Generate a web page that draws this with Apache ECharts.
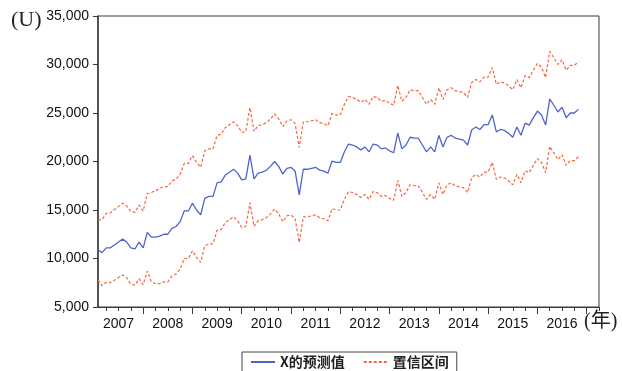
<!DOCTYPE html>
<html>
<head>
<meta charset="utf-8">
<script src="https://cdn.jsdelivr.net/npm/echarts@6/dist/echarts.min.js"></script>
<style>
  html, body { margin: 0; padding: 0; background: #fff; }
  #chart { width: 622px; height: 371px; }
</style>
</head>
<body>
<div id="chart"></div>
<script>
// Year tick labels shown under the time axis
const yearLabels = ['2007', '2008', '2009', '2010', '2011', '2012', '2013', '2014', '2015', '2016'];

// Monthly span of the axis: Feb 2007 .. Apr 2017 (data run Feb 2007 .. Nov 2016)
const axisStart = { year: 2007, month: 2 };
const axisMonths = 123;

// X forecast, monthly from Feb 2007
const forecast = [
  10900, 10600, 11100, 11100, 11400, 11700, 12000, 11700, 11100, 11000, 11700,
  11100, 12700, 12200, 12200, 12300, 12500, 12500, 13100, 13300, 13800, 14900, 14900,
  15700, 15000, 14500, 16200, 16400, 16400, 17800, 17900, 18600, 18900, 19200, 18800,
  18100, 18200, 20650, 18200, 18800, 18900, 19100, 19500, 20000, 19500, 18700, 19300,
  19400, 19000, 16550, 19200, 19200, 19300, 19400, 19100, 19000, 18800, 20050, 19900,
  19900, 21000, 21800, 21700, 21500, 21200, 21500, 21000, 21800, 21700, 21300, 21400,
  21100, 20900, 22950, 21300, 21700, 22500, 22400, 22400, 21700, 21000, 21500, 21000,
  22700, 21500, 22500, 22700, 22400, 22300, 22200, 21700, 23250, 23550, 23300, 23800,
  23800, 24800, 23050, 23300, 23200, 22900, 22500, 23550, 22700, 23950, 23750, 24500,
  25200, 24800, 23750, 26450, 25800, 25100, 25600, 24500, 25000, 25000, 25400
];

// Upper bound of the confidence interval
const upperBound = [
  14000, 14000, 14650, 14700, 15050, 15350, 15700, 15400, 14850, 14750, 15500,
  14900, 16700, 16800, 17000, 17200, 17400, 17400, 18000, 18200, 18700, 19800, 19800,
  20600, 19900, 19400, 21100, 21300, 21300, 22700, 22800, 23500, 23800, 24100, 23700,
  23000, 23100, 25550, 23100, 23700, 23800, 24000, 24400, 24900, 24400, 23600, 24200,
  24300, 23900, 21450, 24100, 24100, 24200, 24300, 24000, 23900, 23700, 24950, 24800,
  24800, 25900, 26700, 26600, 26400, 26100, 26400, 25900, 26700, 26600, 26200, 26300,
  26000, 25800, 27850, 26200, 26600, 27400, 27300, 27300, 26600, 25900, 26400, 25900,
  27600, 26400, 27400, 27600, 27300, 27200, 27100, 26600, 28150, 28450, 28200, 28700,
  28700, 29700, 27950, 28200, 28100, 27800, 27400, 28450, 27600, 28850, 28650, 29400,
  30100, 29700, 28650, 31350, 30700, 30000, 30500, 29400, 29900, 29900, 30300
];

// Lower bound of the confidence interval
const lowerBound = [
  7800, 7200, 7550, 7500, 7750, 8050, 8300, 8000, 7350, 7250, 7900,
  7300, 8700, 7600, 7400, 7400, 7600, 7600, 8200, 8400, 8900, 10000, 10000,
  10800, 10100, 9600, 11300, 11500, 11500, 12900, 13000, 13700, 14000, 14300, 13900,
  13200, 13300, 15750, 13300, 13900, 14000, 14200, 14600, 15100, 14600, 13800, 14400,
  14500, 14100, 11650, 14300, 14300, 14400, 14500, 14200, 14100, 13900, 15150, 15000,
  15000, 16100, 16900, 16800, 16600, 16300, 16600, 16100, 16900, 16800, 16400, 16500,
  16200, 16000, 18050, 16400, 16800, 17600, 17500, 17500, 16800, 16100, 16600, 16100,
  17800, 16600, 17600, 17800, 17500, 17400, 17300, 16800, 18350, 18650, 18400, 18900,
  18900, 19900, 18150, 18400, 18300, 18000, 17600, 18650, 17800, 19050, 18850, 19600,
  20300, 19900, 18850, 21550, 20900, 20200, 20700, 19600, 20100, 20100, 20500
];

// Month categories 'YYYY-MM'
const months = [];
for (let i = 0; i < axisMonths; i++) {
  const m0 = axisStart.month - 1 + i;
  const y = axisStart.year + Math.floor(m0 / 12);
  const m = (m0 % 12) + 1;
  months.push(y + '-' + (m < 10 ? '0' + m : '' + m));
}
const monthOf = v => parseInt(v.slice(5), 10);

const BLUE = '#5064c8';
const ORANGE = '#f4683f';
const AXIS = '#3a3a3a';

const chart = echarts.init(document.getElementById('chart'), null, { renderer: 'canvas' });

chart.setOption({
  animation: false,
  backgroundColor: '#ffffff',
  grid: {
    left: 98, top: 16, right: 23, bottom: 64,
    show: true, borderColor: AXIS, borderWidth: 1, backgroundColor: '#ffffff'
  },
  legend: {
    data: ['X的预测值', '置信区间'],
    left: 242, top: 352,
    borderColor: '#444', borderWidth: 1,
    padding: [3, 8, 5, 8],
    itemWidth: 24, itemHeight: 10, itemGap: 18,
    itemStyle: { opacity: 0 },
    textStyle: { fontFamily: 'Noto Sans CJK SC', fontSize: 14, fontWeight: 'bold', color: '#222' }
  },
  xAxis: [
    {
      type: 'category',
      data: months,
      boundaryGap: false,
      axisLine: { lineStyle: { color: AXIS, width: 1 } },
      axisTick: {
        show: true,
        interval: (i, v) => (monthOf(v) - 1) % 3 === 0,
        length: 4,
        lineStyle: { color: AXIS }
      },
      axisLabel: {
        interval: (i, v) => monthOf(v) === 7 && yearLabels.indexOf(v.slice(0, 4)) >= 0,
        formatter: v => v.slice(0, 4),
        margin: 10,
        fontFamily: 'Liberation Sans, Arial, sans-serif',
        fontSize: 14,
        color: '#111'
      },
      splitLine: { show: false }
    },
    {
      type: 'category',
      data: months,
      boundaryGap: false,
      position: 'bottom',
      axisLine: { show: false },
      axisTick: {
        show: true,
        interval: (i, v) => monthOf(v) === 1,
        length: 7,
        lineStyle: { color: AXIS }
      },
      axisLabel: { show: false },
      splitLine: { show: false }
    }
  ],
  yAxis: {
    type: 'value',
    min: 5000, max: 35000, interval: 5000,
    axisLine: { show: true, lineStyle: { color: AXIS, width: 1.5 } },
    axisTick: { show: true, length: 5, lineStyle: { color: AXIS } },
    axisLabel: {
      margin: 9,
      formatter: v => v.toLocaleString('en-US'),
      fontFamily: 'Liberation Sans, Arial, sans-serif',
      fontSize: 14,
      color: '#111'
    },
    splitLine: { show: false }
  },
  series: [
    {
      name: 'X的预测值', type: 'line', xAxisIndex: 0,
      data: forecast.map((v, i) => [i, v]),
      symbol: 'none', lineStyle: { color: BLUE, width: 1.3 }, itemStyle: { color: BLUE }
    },
    {
      name: '置信区间', type: 'line', xAxisIndex: 0,
      data: upperBound.map((v, i) => [i, v]),
      symbol: 'none', lineStyle: { color: ORANGE, width: 1.2, type: [3, 2] }, itemStyle: { color: ORANGE }
    },
    {
      name: '置信区间', type: 'line', xAxisIndex: 0,
      data: lowerBound.map((v, i) => [i, v]),
      symbol: 'none', lineStyle: { color: ORANGE, width: 1.2, type: [3, 2] }, itemStyle: { color: ORANGE }
    }
  ],
  graphic: [
    {
      type: 'text', left: 11, top: 9,
      style: { text: '(U)', font: '22px "Liberation Serif", "DejaVu Serif", serif', fill: '#222' }
    },
    {
      type: 'text', left: 584, top: 312,
      style: { text: '(年)', font: '20px "Liberation Serif", "Noto Sans CJK SC", serif', fill: '#222' }
    }
  ]
});
</script>
</body>
</html>
